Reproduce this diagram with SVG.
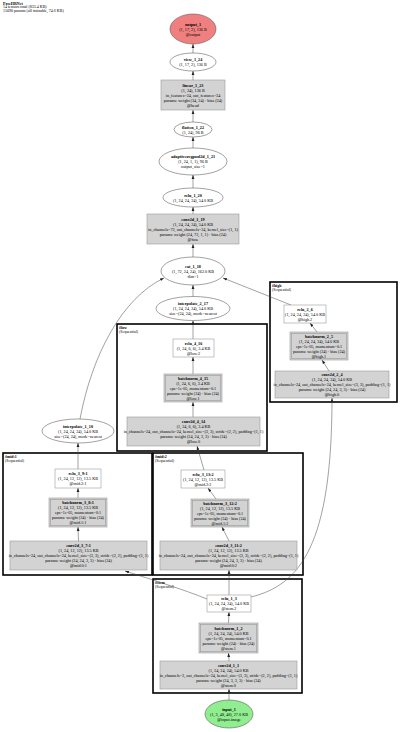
<svg xmlns="http://www.w3.org/2000/svg" width="400" height="732" viewBox="0 0 400 732">
<style>
text{font-family:"Liberation Serif","Times New Roman",serif;font-size:4.2px;fill:#000}
.c{text-anchor:middle}
.b{font-weight:bold}
.h{font-size:4px}
.cl{fill:#fff;stroke:#000;stroke-width:1.6}
.cll{font-size:3.9px}
.el{fill:#fff;stroke:#444;stroke-width:0.5}
.wb{fill:#fff;stroke:#888;stroke-width:0.5}
.gb{fill:#d3d3d3;stroke:#999;stroke-width:0.6}
.bo{fill:#d3d3d3;stroke:#999;stroke-width:0.6}
.bi{fill:none;stroke:#999;stroke-width:0.6}
.e{fill:none;stroke:#444;stroke-width:0.5;marker-end:url(#ah)}
</style>
<defs>
<marker id="ah" markerUnits="userSpaceOnUse" markerWidth="4" markerHeight="4" viewBox="0 0 4 4" refX="4" refY="2" orient="auto">
<path d="M0,0.6 L4,2 L0,3.4 z" fill="#222"/>
</marker>
</defs>
<rect width="400" height="732" fill="#fff"/>
<g id="header">
<text x="3" y="4.5" class="h b">PoseHRNet</text>
<text x="3" y="8.3" class="h">14 tensors total (833.4 KB)</text>
<text x="3" y="12.1" class="h">15090 params (all trainable, 74.6 KB)</text>
</g>
<g id="clusters">
<g id="cluster_low"><rect class="cl" x="117" y="324" width="150" height="127"/><text x="119" y="328.5" class="cll b">#low</text><text x="119" y="332.5" class="cll">(Sequential)</text></g>
<g id="cluster_high"><rect class="cl" x="270" y="282" width="127" height="120"/><text x="272" y="286.5" class="cll b">#high</text><text x="272" y="290.5" class="cll">(Sequential)</text></g>
<g id="cluster_mid1"><rect class="cl" x="3" y="453" width="149" height="122"/><text x="5" y="457.5" class="cll b">#mid:1</text><text x="5" y="461.5" class="cll">(Sequential)</text></g>
<g id="cluster_mid2"><rect class="cl" x="153" y="453" width="150" height="122"/><text x="155" y="457.5" class="cll b">#mid:2</text><text x="155" y="461.5" class="cll">(Sequential)</text></g>
<g id="cluster_stem"><rect class="cl" x="153" y="579" width="149" height="114"/><text x="155" y="583.5" class="cll b">#stem</text><text x="155" y="587.5" class="cll">(Sequential)</text></g>
</g>
<g id="connectors">
<path class="e" d="M229,700 L229,689"/>
<path class="e" d="M229,661 L228.5,653"/>
<path class="e" d="M228.5,623 L229,612"/>
<path class="e" d="M229,595 L229,570"/>
<path class="e" d="M207,599 C185,590 150,579 125,571"/>
<path class="e" d="M251,597 C300,585 332,545 332,398"/>
<path class="e" d="M78.5,541 L78,527"/>
<path class="e" d="M78,498 L78,488"/>
<path class="e" d="M78,469 L78,443"/>
<path class="e" d="M80,419 C92,355 122,298 164,278"/>
<path class="e" d="M229,541 L222,527"/>
<path class="e" d="M216,499 L208,488"/>
<path class="e" d="M204,470 L197,446"/>
<path class="e" d="M193,417 L193,402"/>
<path class="e" d="M193,374 L193,357"/>
<path class="e" d="M193,339 L193,320.5"/>
<path class="e" d="M193,296.5 L193,285"/>
<path class="e" d="M329,371 L322,360"/>
<path class="e" d="M317,332 L310,323"/>
<path class="e" d="M291,305 L223,278"/>
<path class="e" d="M193,257 L193,244"/>
<path class="e" d="M193,214 L193,207"/>
<path class="e" d="M193,188 L193,175"/>
<path class="e" d="M193,148 L193,137"/>
<path class="e" d="M193,122 L193,110"/>
<path class="e" d="M193,80 L193,71"/>
<path class="e" d="M193,53 L193,44"/>
</g>
<g id="output_1"><ellipse cx="193" cy="29" rx="23" ry="15" fill="#f08080" stroke="#444" stroke-width="0.5"/><text x="193" y="25.5" class="c b">output_1</text><text x="193" y="30.5" class="c">(1, 17, 2), 136 B</text><text x="193" y="35.5" class="c">@output</text></g>
<g id="view_1_24"><ellipse class="el" cx="193" cy="62" rx="23" ry="9"/><text x="193" y="61" class="c b">view_1_24</text><text x="193" y="66" class="c">(1, 17, 2), 136 B</text></g>
<g id="linear_1_23"><rect class="gb" x="161" y="80" width="64" height="30"/><text x="193" y="86.5" class="c b">linear_1_23</text><text x="193" y="91.5" class="c">(1, 34), 136 B</text><text x="193" y="96.5" class="c">in_features=24, out_features=34</text><text x="193" y="101.5" class="c">params: weight (34, 24) · bias (34)</text><text x="193" y="106.5" class="c">@head</text></g>
<g id="flatten_1_22"><ellipse class="el" cx="193" cy="129.5" rx="19" ry="7.5"/><text x="193" y="128.5" class="c b">flatten_1_22</text><text x="193" y="133.5" class="c">(1, 24), 96 B</text></g>
<g id="adaptiveavgpool2d_1_21"><ellipse class="el" cx="193" cy="161.5" rx="34" ry="13.5"/><text x="193" y="158" class="c b">adaptiveavgpool2d_1_21</text><text x="193" y="163" class="c">(1, 24, 1, 1), 96 B</text><text x="193" y="168" class="c">output_size=1</text></g>
<g id="relu_1_20"><ellipse class="el" cx="193" cy="197.5" rx="30" ry="9.5"/><text x="193" y="196.5" class="c b">relu_1_20</text><text x="193" y="201.5" class="c">(1, 24, 24, 24), 54.0 KB</text></g>
<g id="conv2d_1_19"><rect class="gb" x="147" y="214" width="92" height="30"/><text x="193" y="220.5" class="c b">conv2d_1_19</text><text x="193" y="225.5" class="c">(1, 24, 24, 24), 54.0 KB</text><text x="193" y="230.5" class="c">in_channels=72, out_channels=24, kernel_size=(1, 1)</text><text x="193" y="235.5" class="c">params: weight (24, 72, 1, 1) · bias (24)</text><text x="193" y="240.5" class="c">@fuse</text></g>
<g id="cat_1_18"><ellipse class="el" cx="193" cy="271" rx="32" ry="14"/><text x="193" y="267.5" class="c b">cat_1_18</text><text x="193" y="272.5" class="c">(1, 72, 24, 24), 162.0 KB</text><text x="193" y="277.5" class="c">dim=1</text></g>
<g id="interpolate_2_17"><ellipse class="el" cx="193" cy="308.5" rx="37" ry="12"/><text x="193" y="305" class="c b">interpolate_2_17</text><text x="193" y="310" class="c">(1, 24, 24, 24), 54.0 KB</text><text x="193" y="315" class="c">size=(24, 24), mode=nearest</text></g>
<g id="relu_4_16"><rect class="wb" x="173" y="339" width="41" height="18"/><text x="193.5" y="344.5" class="c b">relu_4_16</text><text x="193.5" y="349.5" class="c">(1, 24, 6, 6), 3.4 KB</text><text x="193.5" y="354.5" class="c">@low.2</text></g>
<g id="batchnorm_4_15"><rect class="bo" x="164" y="374" width="58" height="28"/><rect class="bi" x="165.3" y="375.3" width="55.4" height="25.4"/><text x="193" y="379.5" class="c b">batchnorm_4_15</text><text x="193" y="384.5" class="c">(1, 24, 6, 6), 3.4 KB</text><text x="193" y="389.5" class="c">eps=1e-05, momentum=0.1</text><text x="193" y="394.5" class="c">params: weight (24) · bias (24)</text><text x="193" y="399.5" class="c">@low.1</text></g>
<g id="conv2d_4_14"><rect class="gb" x="127" y="417" width="133" height="29"/><text x="193.5" y="423" class="c b">conv2d_4_14</text><text x="193.5" y="428" class="c">(1, 24, 6, 6), 3.4 KB</text><text x="193.5" y="433" class="c">in_channels=24, out_channels=24, kernel_size=(3, 3), stride=(2, 2), padding=(1, 1)</text><text x="193.5" y="438" class="c">params: weight (24, 24, 3, 3) · bias (24)</text><text x="193.5" y="443" class="c">@low.0</text></g>
<g id="relu_2_6"><rect class="wb" x="284" y="305" width="42" height="18"/><text x="305" y="310.5" class="c b">relu_2_6</text><text x="305" y="315.5" class="c">(1, 24, 24, 24), 54.0 KB</text><text x="305" y="320.5" class="c">@high.2</text></g>
<g id="batchnorm_2_5"><rect class="bo" x="290" y="332" width="58" height="28"/><rect class="bi" x="291.3" y="333.3" width="55.4" height="25.4"/><text x="319" y="337.5" class="c b">batchnorm_2_5</text><text x="319" y="342.5" class="c">(1, 24, 24, 24), 54.0 KB</text><text x="319" y="347.5" class="c">eps=1e-05, momentum=0.1</text><text x="319" y="352.5" class="c">params: weight (24) · bias (24)</text><text x="319" y="357.5" class="c">@high.1</text></g>
<g id="conv2d_2_4"><rect class="gb" x="275" y="371" width="114" height="27"/><text x="332" y="376.3" class="c b">conv2d_2_4</text><text x="332" y="381.3" class="c">(1, 24, 24, 24), 54.0 KB</text><text x="332" y="386.3" class="c">in_channels=24, out_channels=24, kernel_size=(3, 3), padding=(1, 1)</text><text x="332" y="391.3" class="c">params: weight (24, 24, 3, 3) · bias (24)</text><text x="332" y="396.3" class="c">@high.0</text></g>
<g id="interpolate_1_10"><ellipse class="el" cx="78" cy="431" rx="36" ry="12"/><text x="78" y="427.5" class="c b">interpolate_1_10</text><text x="78" y="432.5" class="c">(1, 24, 24, 24), 54.0 KB</text><text x="78" y="437.5" class="c">size=(24, 24), mode=nearest</text></g>
<g id="relu_3_9_1"><rect class="wb" x="55" y="469" width="46" height="19"/><text x="78" y="475" class="c b">relu_3_9:1</text><text x="78" y="480" class="c">(1, 24, 12, 12), 13.5 KB</text><text x="78" y="485" class="c">@mid.2:1</text></g>
<g id="batchnorm_3_8_1"><rect class="bo" x="49" y="498" width="58" height="29"/><rect class="bi" x="50.3" y="499.3" width="55.4" height="26.4"/><text x="78" y="504" class="c b">batchnorm_3_8:1</text><text x="78" y="509" class="c">(1, 24, 12, 12), 13.5 KB</text><text x="78" y="514" class="c">eps=1e-05, momentum=0.1</text><text x="78" y="519" class="c">params: weight (24) · bias (24)</text><text x="78" y="524" class="c">@mid.1:1</text></g>
<g id="conv2d_3_7_1"><rect class="gb" x="10" y="541" width="137" height="29"/><text x="78.5" y="547" class="c b">conv2d_3_7:1</text><text x="78.5" y="552" class="c">(1, 24, 12, 12), 13.5 KB</text><text x="78.5" y="557" class="c">in_channels=24, out_channels=24, kernel_size=(3, 3), stride=(2, 2), padding=(1, 1)</text><text x="78.5" y="562" class="c">params: weight (24, 24, 3, 3) · bias (24)</text><text x="78.5" y="567" class="c">@mid.0:1</text></g>
<g id="relu_3_13_2"><rect class="wb" x="181" y="470" width="44" height="18"/><text x="203" y="475.5" class="c b">relu_3_13:2</text><text x="203" y="480.5" class="c">(1, 24, 12, 12), 13.5 KB</text><text x="203" y="485.5" class="c">@mid.2:2</text></g>
<g id="batchnorm_3_12_2"><rect class="bo" x="191" y="499" width="58" height="28"/><rect class="bi" x="192.3" y="500.3" width="55.4" height="25.4"/><text x="220" y="504.5" class="c b">batchnorm_3_12:2</text><text x="220" y="509.5" class="c">(1, 24, 12, 12), 13.5 KB</text><text x="220" y="514.5" class="c">eps=1e-05, momentum=0.1</text><text x="220" y="519.5" class="c">params: weight (24) · bias (24)</text><text x="220" y="524.5" class="c">@mid.1:2</text></g>
<g id="conv2d_3_11_2"><rect class="gb" x="160" y="541" width="137" height="29"/><text x="228.5" y="547" class="c b">conv2d_3_11:2</text><text x="228.5" y="552" class="c">(1, 24, 12, 12), 13.5 KB</text><text x="228.5" y="557" class="c">in_channels=24, out_channels=24, kernel_size=(3, 3), stride=(2, 2), padding=(1, 1)</text><text x="228.5" y="562" class="c">params: weight (24, 24, 3, 3) · bias (24)</text><text x="228.5" y="567" class="c">@mid.0:2</text></g>
<g id="relu_1_3"><rect class="wb" x="207" y="595" width="44" height="17"/><text x="229" y="600" class="c b">relu_1_3</text><text x="229" y="605" class="c">(1, 24, 24, 24), 54.0 KB</text><text x="229" y="610" class="c">@stem.2</text></g>
<g id="batchnorm_1_2"><rect class="bo" x="199" y="623" width="59" height="30"/><rect class="bi" x="200.3" y="624.3" width="56.4" height="27.4"/><text x="228.5" y="629.5" class="c b">batchnorm_1_2</text><text x="228.5" y="634.5" class="c">(1, 24, 24, 24), 54.0 KB</text><text x="228.5" y="639.5" class="c">eps=1e-05, momentum=0.1</text><text x="228.5" y="644.5" class="c">params: weight (24) · bias (24)</text><text x="228.5" y="649.5" class="c">@stem.1</text></g>
<g id="conv2d_1_1"><rect class="gb" x="160" y="661" width="137" height="28"/><text x="228.5" y="666.5" class="c b">conv2d_1_1</text><text x="228.5" y="671.5" class="c">(1, 24, 24, 24), 54.0 KB</text><text x="228.5" y="676.5" class="c">in_channels=3, out_channels=24, kernel_size=(3, 3), stride=(2, 2), padding=(1, 1)</text><text x="228.5" y="681.5" class="c">params: weight (24, 3, 3, 3) · bias (24)</text><text x="228.5" y="686.5" class="c">@stem.0</text></g>
<g id="input_1"><ellipse cx="229" cy="714" rx="24" ry="14" fill="#90ee90" stroke="#444" stroke-width="0.5"/><text x="229" y="710.5" class="c b">input_1</text><text x="229" y="715.5" class="c">(1, 3, 48, 48), 27.0 KB</text><text x="229" y="720.5" class="c">@input.image</text></g>
</svg>
